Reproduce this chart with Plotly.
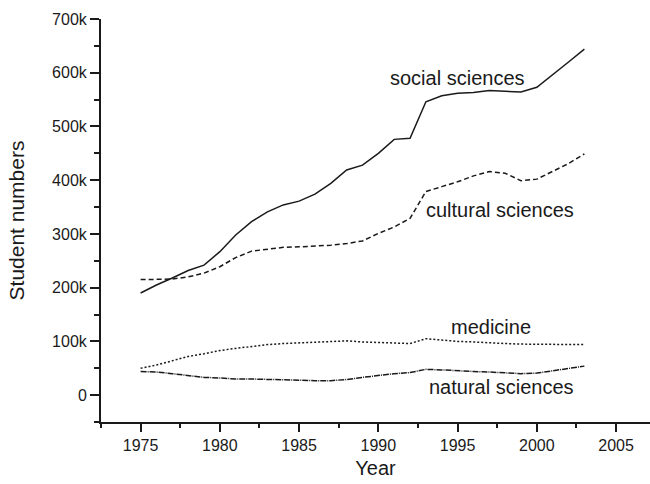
import plotly.graph_objects as go

# Student enrolment by field of study, 1975-2003
years = list(range(1975, 2004))

social_sciences = [190000, 205000, 218000, 232000, 242000, 267000, 298000, 323000, 341000, 354000,
                   361000, 374000, 394000, 419000, 428000, 450000, 476000, 478000, 546000, 557000,
                   562000, 563000, 567000, 565000, 564000, 573000, 596000, 620000, 644000]

cultural_sciences = [215000, 215000, 216000, 220000, 227000, 239000, 256000, 268000, 272000, 275000,
                     276000, 277000, 279000, 282000, 287000, 301000, 313000, 329000, 379000, 388000,
                     397000, 408000, 416000, 413000, 399000, 402000, 416000, 431000, 449000]

medicine = [50000, 56000, 64000, 72000, 77000, 83000, 87000, 91000, 94000, 96000,
            97000, 99000, 100000, 101000, 99000, 98000, 97000, 96000, 105000, 102000,
            100000, 99000, 97000, 96000, 95000, 95000, 94000, 94000, 94000]

natural_sciences = [44000, 43000, 40000, 36000, 33000, 32000, 30000, 30000, 29000, 28000,
                    27000, 27000, 27000, 29000, 33000, 37000, 40000, 42000, 48000, 47000,
                    45000, 44000, 43000, 42000, 40000, 41000, 45000, 50000, 54000]

y_tickvals = [0, 100000, 200000, 300000, 400000, 500000, 600000, 700000]
y_ticktext = ["0", "100k", "200k", "300k", "400k", "500k", "600k", "700k"]
x_tickvals = [1975, 1980, 1985, 1990, 1995, 2000, 2005]

# Series label text and where it sits (year, value)
labels = [
    ("social sciences", 1995.0, 590000),
    ("cultural sciences", 1997.7, 344000),
    ("medicine", 1997.1, 127000),
    ("natural sciences", 1997.8, 15000),
]

INK = "#1a1a1a"
FONT = "Liberation Sans, Arial, sans-serif"

fig = go.Figure()
series = [
    (social_sciences, "solid"),
    (cultural_sciences, "5px,3px"),
    (medicine, "2px,2px"),
    (natural_sciences, "6px,1px,1px,1px"),
]
for values, dash in series:
    fig.add_trace(go.Scatter(
        x=years, y=values, mode="lines",
        line=dict(color=INK, width=1.5, dash=dash),
        showlegend=False, hoverinfo="skip",
    ))

for text, x, y in labels:
    fig.add_annotation(x=x, y=y, text=text, showarrow=False,
                       xanchor="center", yanchor="middle",
                       font=dict(family=FONT, size=20, color=INK))

fig.update_layout(
    width=650, height=484,
    margin=dict(l=101, r=0, t=19, b=62),
    paper_bgcolor="white", plot_bgcolor="white",
    font=dict(family=FONT, color=INK),
)

fig.update_xaxes(
    range=[1972.5, 2007.14],
    tickvals=x_tickvals,
    ticks="outside", ticklen=8, tickwidth=1.5, tickcolor=INK,
    minor=dict(tick0=1972.5, dtick=2.5, ticks="outside", ticklen=4, tickwidth=1.5, tickcolor=INK),
    showline=True, linecolor=INK, linewidth=2,
    showgrid=False, zeroline=False,
    tickfont=dict(size=16, family=FONT, color=INK),
    title=dict(text="Year", font=dict(size=20, family=FONT, color=INK), standoff=8),
)

fig.update_yaxes(
    range=[-50000, 700000],
    tickvals=y_tickvals, ticktext=y_ticktext,
    ticks="outside", ticklen=9, tickwidth=1.5, tickcolor=INK,
    minor=dict(tick0=-50000, dtick=100000, ticks="outside", ticklen=5, tickwidth=1.5, tickcolor=INK),
    showline=True, linecolor=INK, linewidth=2,
    showgrid=False, zeroline=False,
    tickfont=dict(size=16, family=FONT, color=INK),
    title=dict(text="Student numbers", font=dict(size=21, family=FONT, color=INK), standoff=22),
)

fig.write_html("out.html")
